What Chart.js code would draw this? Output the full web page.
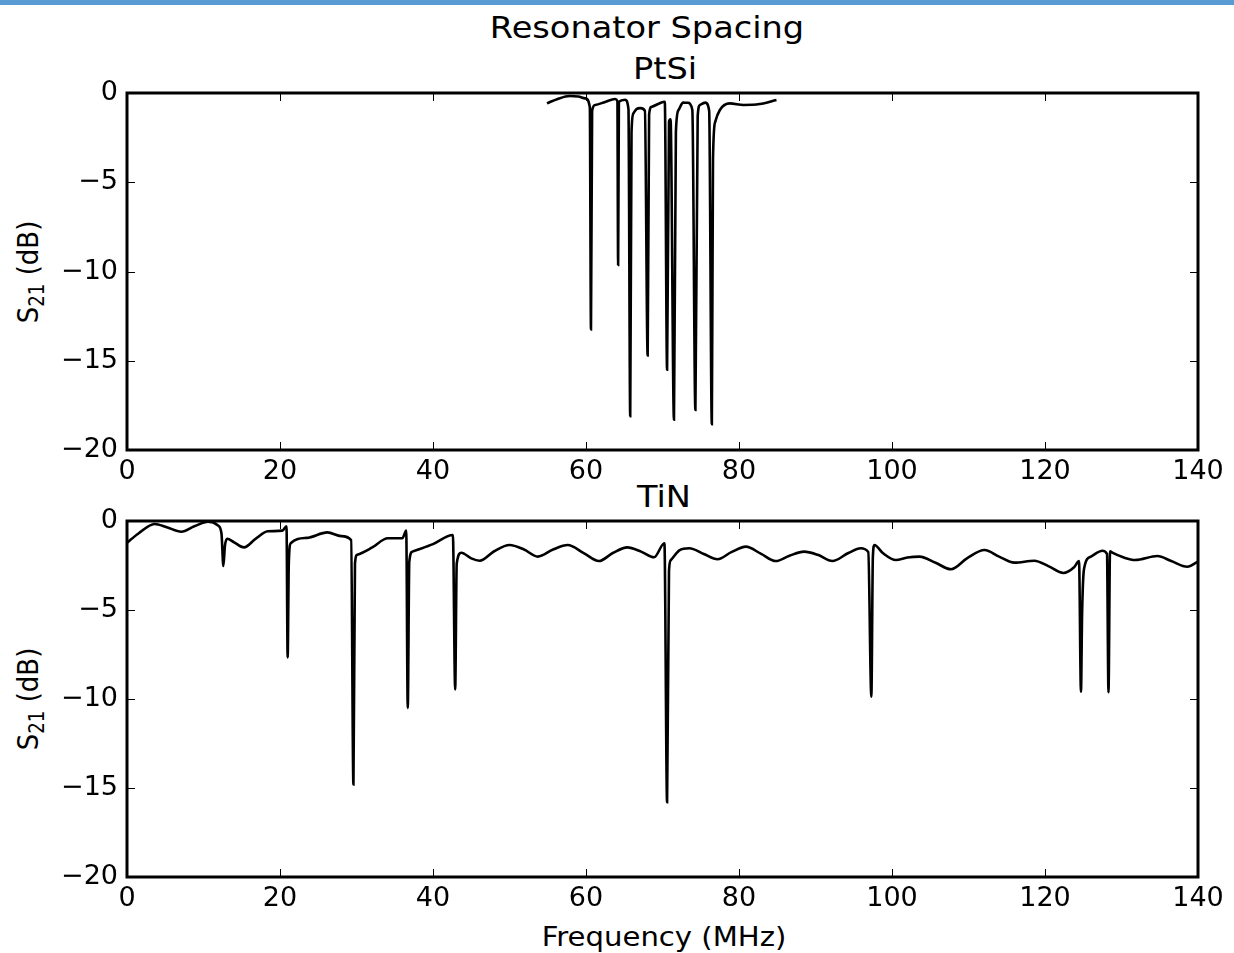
<!DOCTYPE html>
<html>
<head>
<meta charset="utf-8">
<title>Resonator Spacing</title>
<script src="https://cdn.jsdelivr.net/npm/chart.js@4.4.1/dist/chart.umd.min.js"></script>
<style>
    body {
        margin: 0;
        width: 1234px;
        height: 953px;
        overflow: hidden;
        position: relative;
        background: #fff;
        font-family: "DejaVu Sans", sans-serif;
        color: #000;
    }
    .top-bar {
        position: absolute;
        left: 0;
        top: 0;
        width: 1234px;
        height: 5px;
        background: #5b9bd5;
    }
    canvas {
        position: absolute;
        left: 0;
    }
    .label {
        position: absolute;
        white-space: nowrap;
        line-height: 1;
        transform: translateX(-50%) scaleX(1.12);
    }
    .ylabel {
        position: absolute;
        white-space: nowrap;
        line-height: 1;
        font-size: 26px;
        transform: translate(-50%, -50%) scaleX(1.12) rotate(-90deg);
    }
    .ylabel sub {
        font-size: 0.7em;
        vertical-align: baseline;
        position: relative;
        top: 0.28em;
    }
</style>
</head>
<body>
<div class="top-bar"></div>

<div class="label" style="left:647px; top:13px; font-size:30px;">Resonator Spacing</div>
<div class="label" style="left:665px; top:54px; font-size:30px;">PtSi</div>
<div class="label" style="left:664px; top:482px; font-size:30px;">TiN</div>
<div class="label" style="left:664px; top:924px; font-size:26px;">Frequency (MHz)</div>
<div class="ylabel" style="left:28px; top:272px;">S<sub>21</sub> (dB)</div>
<div class="ylabel" style="left:28px; top:699px;">S<sub>21</sub> (dB)</div>

<canvas id="ptsiChart" width="1234" height="440" style="top:50px;"></canvas>
<canvas id="tinChart" width="1234" height="430" style="top:490px;"></canvas>

<script>
// axes
const freqTicks = [0, 20, 40, 60, 80, 100, 120, 140];
const dbTicks = [0, -5, -10, -15, -20];

// PtSi sweep (MHz, dB)
const ptsiFreq = [
    54.9, 56.3, 57.9, 59.0, 59.9, 60.5, 60.65, 60.8, 61.2, 62.5,
    63.8, 64.1, 64.2, 64.3, 65.1, 65.55, 65.78, 65.95, 66.2, 66.6,
    67.1, 67.7, 68.06, 68.25, 68.6, 69.5, 70.3, 70.6, 70.85, 71.05,
    71.5, 71.75, 72.1, 72.7, 73.3, 73.9, 74.3, 74.6, 74.9, 75.6,
    76.1, 76.45, 76.6, 76.9, 77.5, 78.8, 80.6, 82.7, 84.9
];
const ptsiS21 = [
    -0.58, -0.33, -0.17, -0.2, -0.3, -0.8, -13.24, -1.0, -0.67, -0.5,
    -0.34, -0.45, -9.64, -0.5, -0.38, -0.9, -18.1, -2.2, -1.14, -0.9,
    -0.85, -1.0, -14.7, -1.2, -0.77, -0.6, -0.49, -15.5, -1.6, -1.47,
    -18.3, -2.2, -0.95, -0.54, -0.55, -0.95, -17.76, -1.3, -0.67, -0.54,
    -1.0, -18.55, -3.7, -1.6, -0.95, -0.58, -0.67, -0.62, -0.39
];

// TiN sweep (MHz, dB)
const tinFreq = [
    0, 1.5, 3.6, 5.2, 7.1, 8.8, 10.6, 11.9, 12.35, 12.6,
    12.8, 13.1, 14.0, 15.3, 16.8, 18.4, 20.3, 20.85, 21.0, 21.15,
    21.4, 23.5, 26.2, 28.0, 29.3, 29.6, 29.8, 30.1, 32.0, 34.1,
    36.0, 36.5, 36.7, 36.9, 37.3, 40.0, 42.6, 42.9, 43.1, 43.7,
    45.0, 46.1, 48.0, 50.0, 51.9, 53.7, 55.7, 57.6, 59.7, 61.7,
    63.5, 65.4, 67.2, 68.9, 70.25, 70.6, 70.85, 71.1, 72.2, 73.5,
    75.4, 77.2, 79.0, 80.9, 82.9, 84.8, 86.6, 88.5, 90.3, 92.2,
    94.3, 95.9, 96.9, 97.3, 97.5, 97.7, 98.8, 100.5, 102.0, 103.6,
    105.7, 107.7, 109.8, 112.1, 114.0, 116.0, 118.6, 120.5, 122.4, 123.8,
    124.45, 124.7, 124.85, 125.1, 126.0, 127.5, 128.1, 128.3, 128.5, 128.8,
    130.3, 131.8, 134.7, 136.5, 138.6, 140
];
const tinS21 = [
    -1.22, -0.7, -0.17, -0.35, -0.6, -0.3, -0.04, -0.25, -0.7, -2.53,
    -1.4, -1.0, -1.2, -1.48, -1.0, -0.58, -0.54, -0.3, -7.66, -2.4,
    -1.25, -0.95, -0.64, -0.85, -1.07, -14.8, -2.4, -1.9, -1.5, -0.97,
    -0.97, -0.54, -10.5, -2.3, -1.72, -1.3, -0.79, -9.46, -2.4, -1.78,
    -2.1, -2.23, -1.7, -1.35, -1.6, -2.0, -1.6, -1.35, -1.8, -2.25,
    -1.8, -1.48, -1.72, -2.04, -1.25, -15.8, -2.8, -2.19, -1.65, -1.53,
    -1.85, -2.15, -1.75, -1.44, -1.85, -2.25, -1.95, -1.72, -1.9, -2.25,
    -1.8, -1.53, -1.75, -9.87, -2.0, -1.35, -1.8, -2.19, -2.05, -2.0,
    -2.35, -2.71, -2.1, -1.63, -2.0, -2.34, -2.23, -2.55, -2.92, -2.6,
    -2.25, -9.59, -5.2, -2.7, -2.0, -1.67, -1.85, -9.62, -1.7, -1.78,
    -2.05, -2.19, -1.97, -2.25, -2.57, -2.28
];

// matplotlib-style box with inward ticks on all four sides
const framePlugin = {
    id: "frame",
    afterDatasetsDraw(chart) {
        const {ctx, chartArea: a, scales: {x, y}} = chart;
        const len = 8;
        ctx.save();
        ctx.strokeStyle = "#000";
        ctx.lineWidth = 1;
        ctx.beginPath();
        for (const t of x.ticks) {
            const px = Math.round(x.getPixelForValue(t.value)) + 0.5;
            ctx.moveTo(px, a.top);
            ctx.lineTo(px, a.top + len);
            ctx.moveTo(px, a.bottom);
            ctx.lineTo(px, a.bottom - len);
        }
        for (const t of y.ticks) {
            const py = Math.round(y.getPixelForValue(t.value)) + 0.5;
            ctx.moveTo(a.left, py);
            ctx.lineTo(a.left + len, py);
            ctx.moveTo(a.right, py);
            ctx.lineTo(a.right - len, py);
        }
        ctx.stroke();
        ctx.lineWidth = 3;
        ctx.strokeRect(a.left, a.top, a.right - a.left, a.bottom - a.top);
        ctx.restore();
    }
};

function formatDb(value) {
    return value < 0 ? "\u2212" + Math.abs(value) : String(value);
}

function makeChart(canvasId, freq, s21, padTop, xAxisHeight) {
    const points = freq.map((f, i) => ({x: f, y: s21[i]}));
    const tickFont = {family: "'DejaVu Sans', sans-serif", size: 27};

    return new Chart(document.getElementById(canvasId).getContext("2d"), {
        type: "line",
        data: {
            datasets: [{
                data: points,
                borderColor: "#000",
                borderWidth: 2.6,
                pointRadius: 0,
                fill: false,
                cubicInterpolationMode: "monotone"
            }]
        },
        options: {
            responsive: false,
            animation: false,
            devicePixelRatio: 1,
            layout: {
                padding: {top: padTop, right: 36, left: 0, bottom: 0}
            },
            plugins: {
                legend: {display: false},
                tooltip: {enabled: false}
            },
            scales: {
                x: {
                    type: "linear",
                    min: 0,
                    max: 140,
                    afterBuildTicks: (scale) => {
                        scale.ticks = freqTicks.map(v => ({value: v}));
                    },
                    afterFit: (scale) => {
                        scale.height = xAxisHeight;
                    },
                    grid: {display: false, drawTicks: false},
                    border: {display: false},
                    ticks: {
                        color: "#000",
                        font: tickFont,
                        padding: 6,
                        maxRotation: 0
                    }
                },
                y: {
                    type: "linear",
                    min: -20,
                    max: 0,
                    afterBuildTicks: (scale) => {
                        scale.ticks = dbTicks.map(v => ({value: v}));
                    },
                    afterFit: (scale) => {
                        scale.width = 127;
                    },
                    grid: {display: false, drawTicks: false},
                    border: {display: false},
                    ticks: {
                        color: "#000",
                        font: tickFont,
                        padding: 9,
                        callback: (value) => formatDb(value)
                    }
                }
            }
        },
        plugins: [framePlugin]
    });
}

document.addEventListener("DOMContentLoaded", function () {
    makeChart("ptsiChart", ptsiFreq, ptsiS21, 43, 40);
    makeChart("tinChart", tinFreq, tinS21, 31, 43);
});
</script>
</body>
</html>
